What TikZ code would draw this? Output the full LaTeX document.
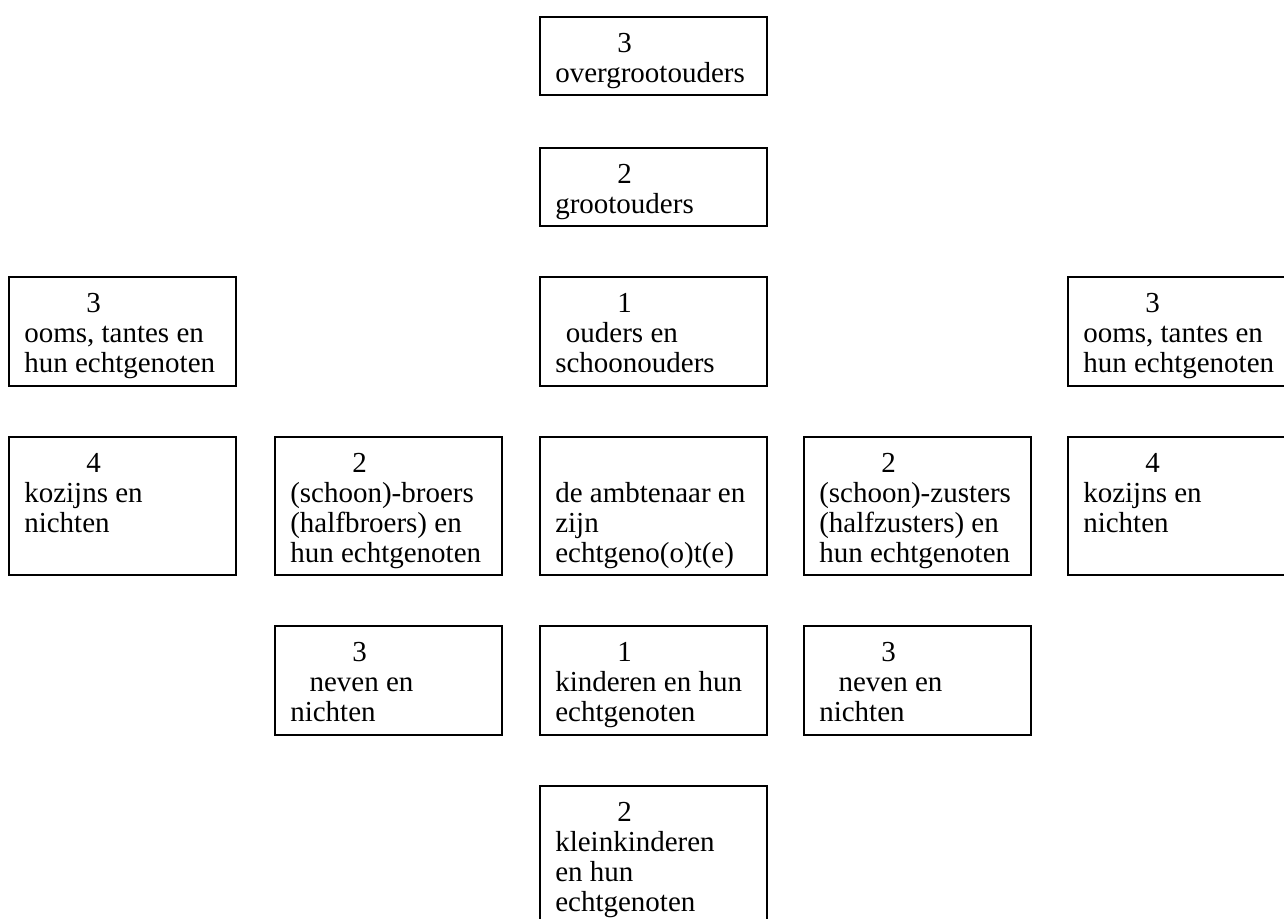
\documentclass[tikz,border=0pt]{standalone}
\usepackage{fontspec}
\setmainfont{Liberation Serif}
\begin{document}
\begin{tikzpicture}[x=0.75pt,y=-0.75pt,
  box/.style={draw=black,line width=1.2pt,anchor=north west,minimum width=170.25pt,inner sep=0pt},
  two/.style={box,minimum height=58.5pt},
  three/.style={box,minimum height=81.75pt},
  four/.style={box,minimum height=103.5pt},
  txt/.style={anchor=north west,inner sep=0pt,align=left,xshift=12pt,yshift=-2.25pt,
    font=\fontsize{21.75}{22.5}\selectfont}]
\useasboundingbox (0,0) rectangle (1284,918);
\clip (0,0) rectangle (1284,918);
\newcommand{\fl}{\rule{0pt}{24.75pt}}
\newcommand{\dg}[1]{\hspace*{46.5pt}#1}
% row 1
\node[two] (ogo) at (539,16) {};
\node[txt] (ogot) at (ogo.north west) {\fl\dg{3}\\overgrootouders};
% row 2
\node[two] (go) at (539,147) {};
\node[txt] (got) at (go.north west) {\fl\dg{2}\\grootouders};
% row 3
\node[three] (uA) at (8,276) {};
\node[txt] (uAt) at (uA.north west) {\fl\dg{3}\\ooms, tantes en\\hun echtgenoten};
\node[three] (uC) at (539,276) {};
\node[txt] (uCt) at (uC.north west) {\fl\dg{1}\\\hspace*{8pt}ouders en\\schoonouders};
\node[three] (uE) at (1067,276) {};
\node[txt] (uEt) at (uE.north west) {\fl\dg{3}\\ooms, tantes en\\hun echtgenoten};
% row 4
\node[four] (kA) at (8,436) {};
\node[txt] (kAt) at (kA.north west) {\fl\dg{4}\\kozijns en\\nichten};
\node[four] (bB) at (274,436) {};
\node[txt] (bBt) at (bB.north west) {\fl\dg{2}\\(schoon)-broers\\(halfbroers) en\\hun echtgenoten};
\node[four] (amb) at (539,436) {};
\node[txt] (ambt) at (amb.north west) {\fl\\de ambtenaar en\\zijn\\echtgeno(o)t(e)};
\node[four] (zD) at (803,436) {};
\node[txt] (zDt) at (zD.north west) {\fl\dg{2}\\(schoon)-zusters\\(halfzusters) en\\hun echtgenoten};
\node[four] (kE) at (1067,436) {};
\node[txt] (kEt) at (kE.north west) {\fl\dg{4}\\kozijns en\\nichten};
% row 5
\node[three] (nB) at (274,625) {};
\node[txt] (nBt) at (nB.north west) {\fl\dg{3}\\\hspace*{14.5pt}neven en\\nichten};
\node[three] (kiC) at (539,625) {};
\node[txt] (kiCt) at (kiC.north west) {\fl\dg{1}\\kinderen en hun\\echtgenoten};
\node[three] (nD) at (803,625) {};
\node[txt] (nDt) at (nD.north west) {\fl\dg{3}\\\hspace*{14.5pt}neven en\\nichten};
% row 6
\node[four] (kk) at (539,785) {};
\node[txt] (kkt) at (kk.north west) {\fl\dg{2}\\kleinkinderen\\en hun\\echtgenoten};
\end{tikzpicture}
\end{document}
